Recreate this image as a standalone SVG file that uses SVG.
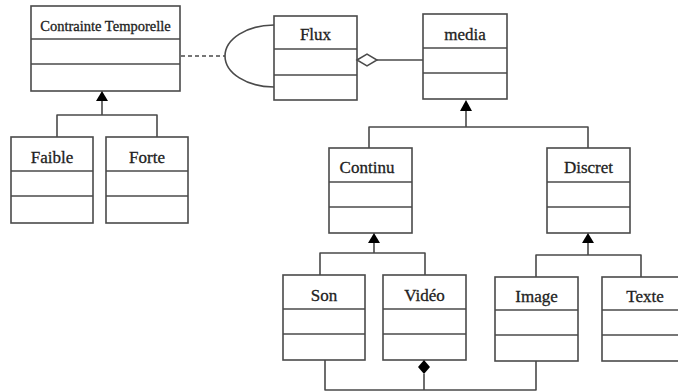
<svg xmlns="http://www.w3.org/2000/svg" width="678" height="392" viewBox="0 0 678 392">
<style>
.box{fill:#fff;stroke:#4a4a4a;stroke-width:1.6}
.div{stroke:#4a4a4a;stroke-width:1.6}
.lbl{font-family:"Liberation Serif","Times New Roman",serif;font-size:17px;fill:#222;stroke:#222;stroke-width:0.3;text-anchor:middle}
.ln{fill:none;stroke:#4a4a4a;stroke-width:1.6;stroke-linejoin:round}
.tri{fill:#000;stroke:none}
</style>
<rect width="678" height="392" fill="#fff"/>
<g id="contrainte">
<rect class="box" x="31" y="6" width="149" height="85"/>
<line class="div" x1="31" y1="39" x2="180" y2="39"/>
<line class="div" x1="31" y1="64" x2="180" y2="64"/>
<text class="lbl" x="105.5" y="31" style="font-size:14.5px">Contrainte Temporelle</text>
</g>
<g id="faible">
<rect class="box" x="11" y="137" width="82" height="86"/>
<line class="div" x1="11" y1="171" x2="93" y2="171"/>
<line class="div" x1="11" y1="196" x2="93" y2="196"/>
<text class="lbl" x="52" y="163">Faible</text>
</g>
<g id="forte">
<rect class="box" x="106" y="137" width="82" height="86"/>
<line class="div" x1="106" y1="171" x2="188" y2="171"/>
<line class="div" x1="106" y1="196" x2="188" y2="196"/>
<text class="lbl" x="147" y="163">Forte</text>
</g>
<g id="flux">
<rect class="box" x="274" y="16" width="83" height="84"/>
<line class="div" x1="274" y1="49" x2="357" y2="49"/>
<line class="div" x1="274" y1="75" x2="357" y2="75"/>
<text class="lbl" x="315.5" y="40">Flux</text>
</g>
<g id="media">
<rect class="box" x="423" y="14" width="84" height="85"/>
<line class="div" x1="423" y1="48" x2="507" y2="48"/>
<line class="div" x1="423" y1="73" x2="507" y2="73"/>
<text class="lbl" x="465" y="40">media</text>
</g>
<g id="continu">
<rect class="box" x="329" y="148" width="83" height="85"/>
<line class="div" x1="329" y1="182" x2="412" y2="182"/>
<line class="div" x1="329" y1="207" x2="412" y2="207"/>
<text class="lbl" x="367" y="173">Continu</text>
</g>
<g id="discret">
<rect class="box" x="547" y="148" width="83" height="85"/>
<line class="div" x1="547" y1="182" x2="630" y2="182"/>
<line class="div" x1="547" y1="207" x2="630" y2="207"/>
<text class="lbl" x="588.5" y="173">Discret</text>
</g>
<g id="son">
<rect class="box" x="283" y="275" width="82" height="85"/>
<line class="div" x1="283" y1="309" x2="365" y2="309"/>
<line class="div" x1="283" y1="334" x2="365" y2="334"/>
<text class="lbl" x="324" y="301">Son</text>
</g>
<g id="video">
<rect class="box" x="383" y="275" width="83" height="85"/>
<line class="div" x1="383" y1="309" x2="466" y2="309"/>
<line class="div" x1="383" y1="334" x2="466" y2="334"/>
<text class="lbl" x="424.5" y="301">Vidéo</text>
</g>
<g id="image">
<rect class="box" x="495" y="277" width="83" height="84"/>
<line class="div" x1="495" y1="310" x2="578" y2="310"/>
<line class="div" x1="495" y1="335" x2="578" y2="335"/>
<text class="lbl" x="536.5" y="302">Image</text>
</g>
<g id="texte">
<rect class="box" x="602" y="277" width="84" height="84"/>
<line class="div" x1="602" y1="310" x2="686" y2="310"/>
<line class="div" x1="602" y1="335" x2="686" y2="335"/>
<text class="lbl" x="645" y="302">Texte</text>
</g>
<g id="connectors">
<line class="ln" x1="181" y1="56" x2="225" y2="56" stroke-dasharray="4 3"/>
<path class="ln" d="M274,25 A49,31 0 0 0 274,87"/>
<polygon points="357,60 367,54 377,60 367,66" fill="#fff" stroke="#4a4a4a" stroke-width="1.5"/>
<line class="ln" x1="377" y1="60" x2="423" y2="60"/>
<polygon class="tri" points="102,91 96,101 108,101"/>
<path class="ln" d="M102,101 V115 M57,137 V115 H157 V137"/>
<polygon class="tri" points="466,100 460,111 472,111"/>
<path class="ln" d="M466,111 V127 M369,148 V127 H588 V148"/>
<polygon class="tri" points="374,233 368,243 380,243"/>
<path class="ln" d="M374,243 V253 M320,275 V253 H425 V275"/>
<polygon class="tri" points="588,233 582,243 594,243"/>
<path class="ln" d="M588,243 V255 M536,277 V255 H641 V277"/>
<polygon class="tri" points="424,360 430,367 424,374 418,367"/>
<path class="ln" d="M424,374 V390 M325,360 V390 H536 V361"/>
</g>
</svg>
